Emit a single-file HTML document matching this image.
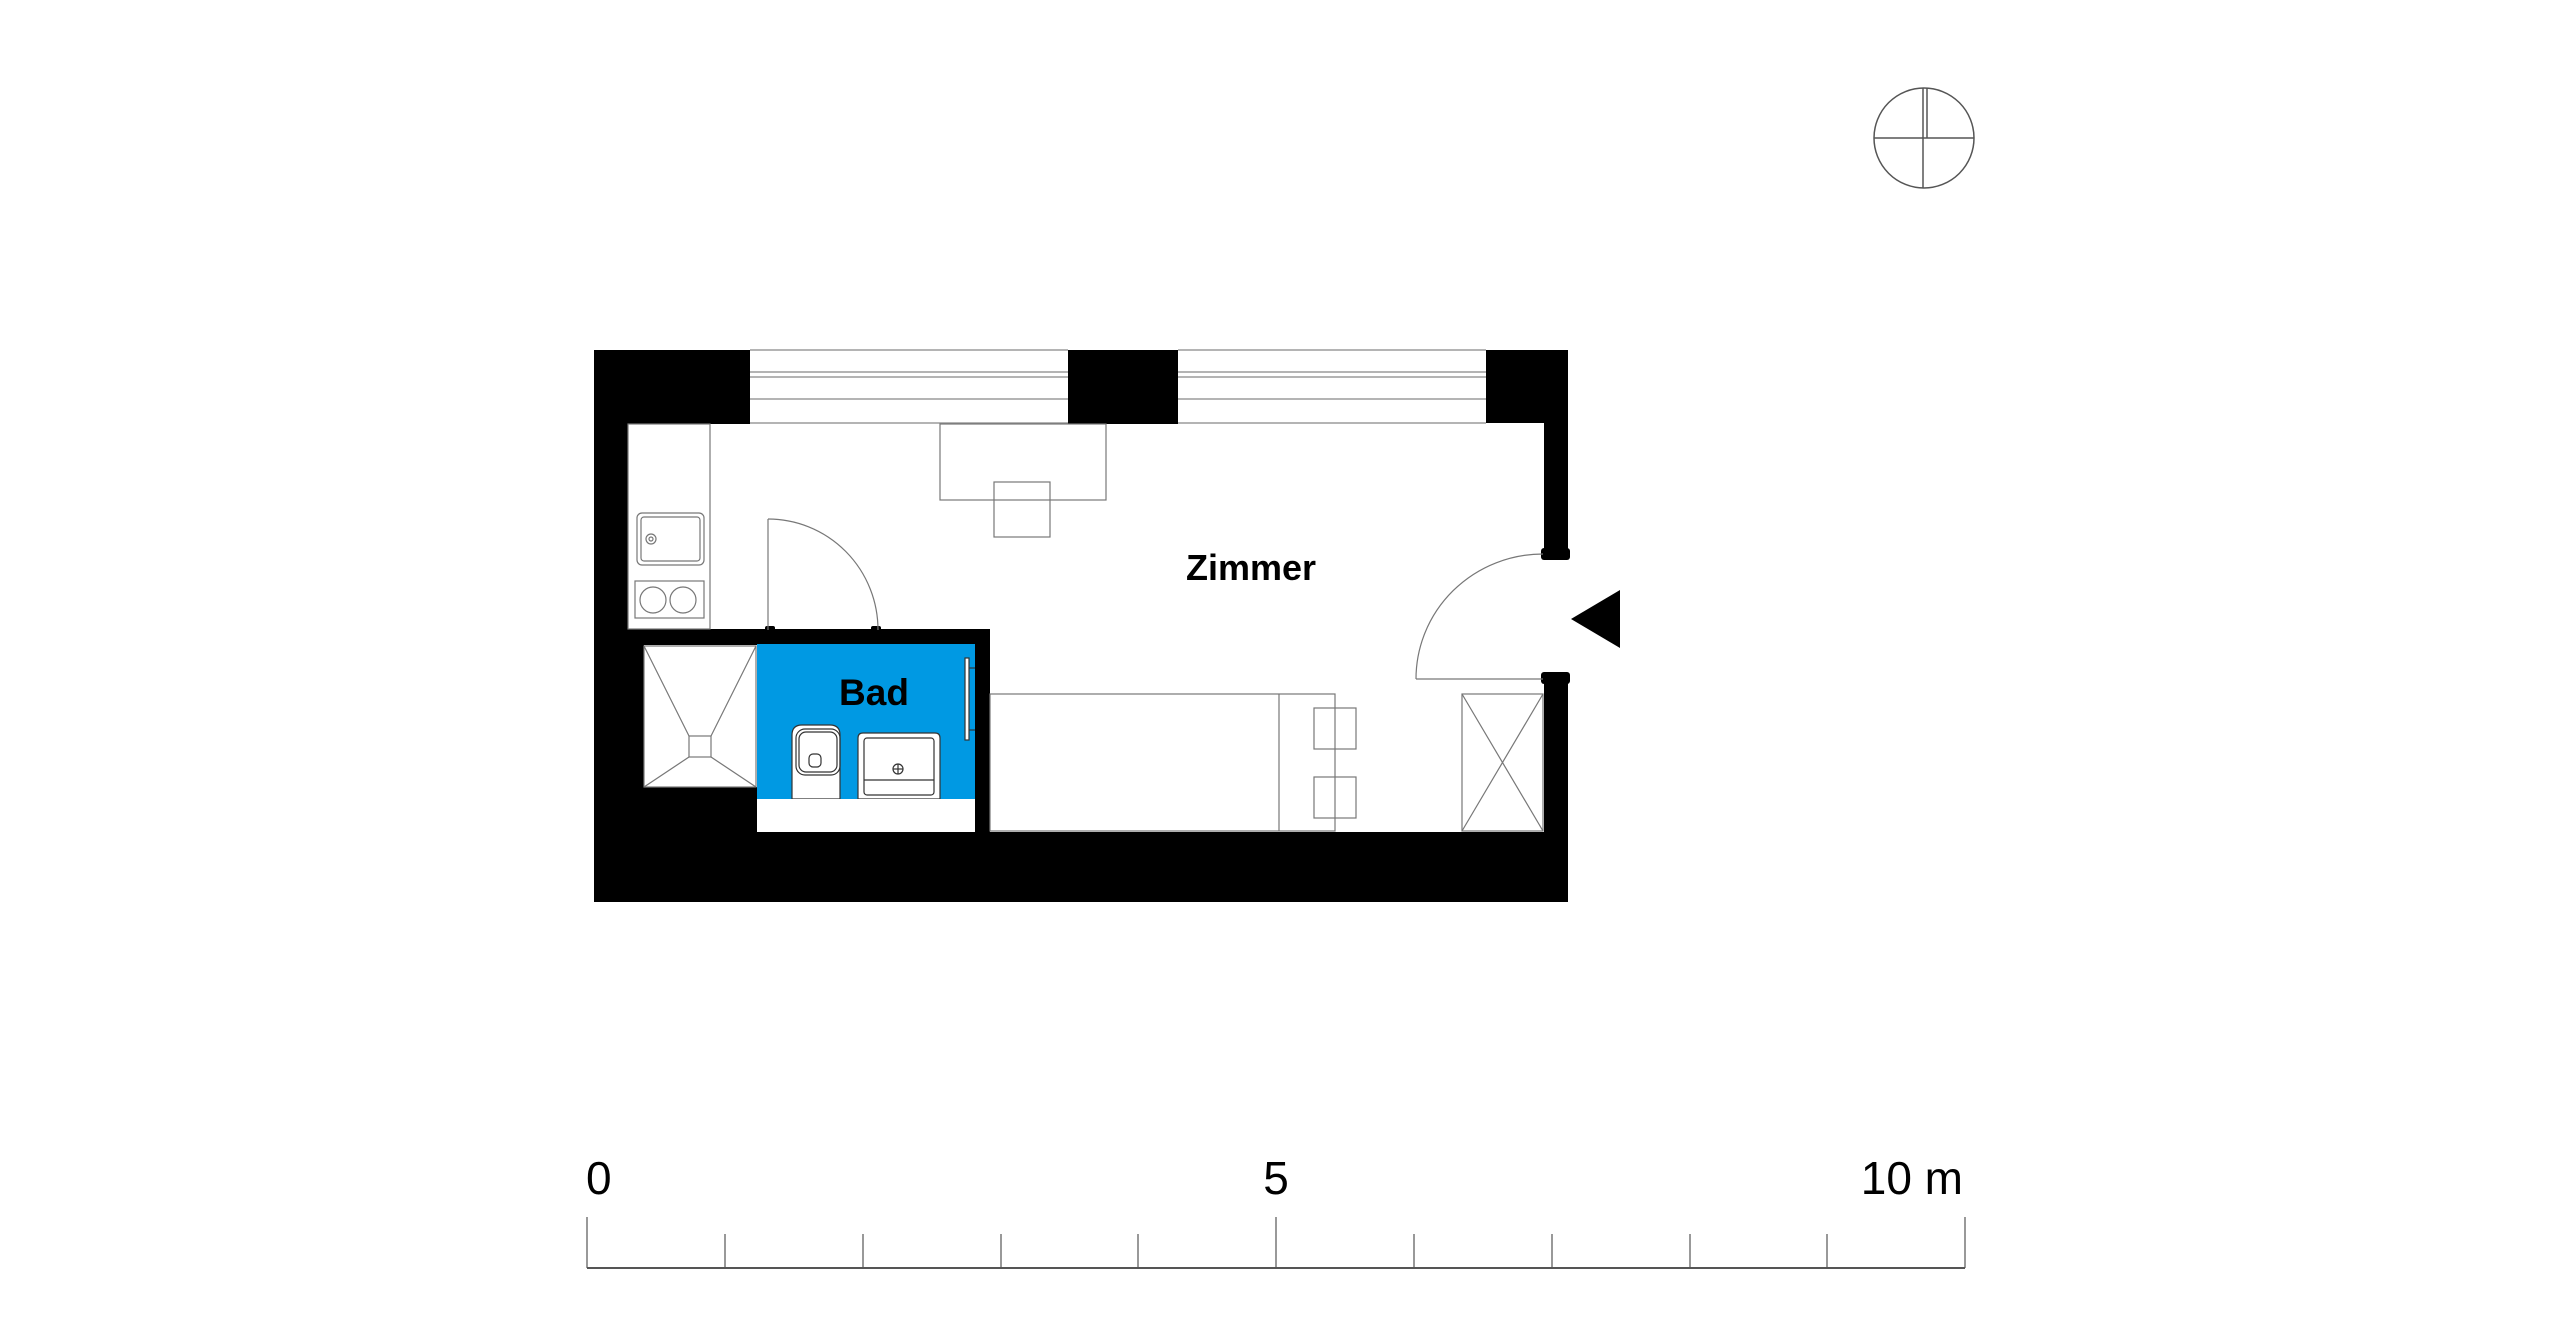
<!DOCTYPE html>
<html><head><meta charset="utf-8"><style>
html,body{margin:0;padding:0;background:#fff;}
svg{display:block;}
text{font-family:"Liberation Sans",Arial,sans-serif;}
</style></head><body>
<svg width="2560" height="1331" viewBox="0 0 2560 1331" xmlns="http://www.w3.org/2000/svg">
<rect width="2560" height="1331" fill="#fff"/>
<!-- compass -->
<g fill="none" stroke="#555" stroke-width="1.5">
<circle cx="1924" cy="138" r="50"/>
<line x1="1874" y1="138" x2="1974" y2="138"/>
<line x1="1923" y1="88" x2="1923" y2="188"/>
<line x1="1927" y1="88" x2="1927" y2="138"/>
</g>
<!-- walls -->
<g fill="#000">
<rect x="594" y="350" width="156" height="74"/>
<rect x="1068" y="350" width="110" height="74"/>
<rect x="1486" y="350" width="82" height="73"/>
<rect x="594" y="350" width="34" height="552"/>
<rect x="1544" y="350" width="24" height="205"/>
<rect x="1541" y="548" width="29" height="12" rx="3"/>
<rect x="1544" y="675" width="24" height="227"/>
<rect x="1541" y="672" width="29" height="12" rx="3"/>
<rect x="594" y="832" width="974" height="70"/>
<rect x="628" y="629" width="362" height="16"/>
<rect x="975" y="629" width="15" height="203"/>
<rect x="628" y="629" width="16" height="203"/>
<rect x="628" y="787" width="129" height="45"/>
<rect x="765" y="626" width="10" height="20" rx="2"/>
<rect x="871" y="626" width="10" height="20" rx="2"/>
</g>
<!-- windows -->
<g stroke="#888" stroke-width="1.2">
<line x1="750" y1="350" x2="1068" y2="350"/>
<line x1="750" y1="372" x2="1068" y2="372"/>
<line x1="750" y1="377" x2="1068" y2="377"/>
<line x1="750" y1="399" x2="1068" y2="399"/>
<line x1="750" y1="423" x2="1068" y2="423"/>
<line x1="1178" y1="350" x2="1486" y2="350"/>
<line x1="1178" y1="372" x2="1486" y2="372"/>
<line x1="1178" y1="377" x2="1486" y2="377"/>
<line x1="1178" y1="399" x2="1486" y2="399"/>
<line x1="1178" y1="423" x2="1486" y2="423"/>
</g>
<!-- bath -->
<rect x="757" y="644" width="218" height="155" fill="#0099e3"/>
<g fill="none" stroke="#777" stroke-width="1.2">
<!-- kitchen -->
<rect x="628" y="424" width="82" height="205"/>
<rect x="637" y="513" width="67" height="52" rx="5"/>
<rect x="641" y="517" width="59" height="44" rx="3"/>
<circle cx="651" cy="539" r="5"/><circle cx="651" cy="539" r="2"/>
<rect x="635" y="581" width="69" height="37"/>
<circle cx="653" cy="600" r="13"/><circle cx="683" cy="600" r="13"/>
<!-- bath door -->
<line x1="768" y1="519" x2="768" y2="630"/>
<path d="M768 519 A110 111 0 0 1 878 630"/>
<!-- desk -->
<rect x="940" y="424" width="166" height="76"/>
<rect x="994" y="482" width="56" height="55"/>
<!-- entry door -->
<line x1="1416" y1="679" x2="1543" y2="679"/>
<path d="M1416 679 A127 125 0 0 1 1543 554"/>
<!-- bed -->
<rect x="990" y="694" width="345" height="137"/>
<line x1="1279" y1="694" x2="1279" y2="831"/>
<rect x="1314" y="708" width="42" height="41"/>
<rect x="1314" y="777" width="42" height="41"/>
<!-- wardrobe -->
<rect x="1462" y="694" width="81" height="137"/>
<line x1="1462" y1="694" x2="1543" y2="831"/>
<line x1="1543" y1="694" x2="1462" y2="831"/>
<!-- shower -->
<rect x="644" y="646" width="112" height="141" fill="#fff"/>
<rect x="689" y="736" width="22" height="21"/>
<line x1="644" y1="646" x2="689" y2="736"/>
<line x1="756" y1="646" x2="711" y2="736"/>
<line x1="644" y1="787" x2="689" y2="757"/>
<line x1="756" y1="787" x2="711" y2="757"/>
</g>
<!-- bath fixtures -->
<g stroke="#333" stroke-width="1.2" fill="#fff">
<path d="M792 799 V735 Q792 725 802 725 H830 Q840 725 840 735 V799 Z"/>
<rect x="796" y="729" width="44" height="46" rx="9" fill="none"/>
<rect x="799" y="732" width="38" height="40" rx="7" fill="none"/>
<rect x="809" y="754" width="12" height="13" rx="4" fill="none"/>
<path d="M858 799 V738 Q858 733 863 733 H935 Q940 733 940 738 V799 Z"/>
<rect x="864" y="738" width="70" height="57" rx="3" fill="none"/>
<line x1="864" y1="780" x2="934" y2="780"/>
<circle cx="898" cy="769" r="5" fill="none"/>
<line x1="893" y1="769" x2="903" y2="769"/><line x1="898" y1="764" x2="898" y2="774"/>
<rect x="965" y="658" width="4" height="82"/>
<line x1="969" y1="668" x2="975" y2="668"/><line x1="969" y1="730" x2="975" y2="730"/>
</g>
<rect x="757" y="799" width="218" height="33" fill="#fff"/>
<!-- labels -->
<text x="1251" y="580" font-size="36" font-weight="bold" text-anchor="middle">Zimmer</text>
<text x="874" y="705" font-size="37" font-weight="bold" text-anchor="middle">Bad</text>
<!-- entry arrow -->
<polygon points="1571,619 1620,590 1620,648" fill="#000"/>
<!-- scale bar -->
<g stroke="#555" stroke-width="1.2">
<line x1="587" y1="1268" x2="1965" y2="1268" stroke-width="2"/>
<line x1="587" y1="1217" x2="587" y2="1268"/>
<line x1="725" y1="1234" x2="725" y2="1268"/>
<line x1="863" y1="1234" x2="863" y2="1268"/>
<line x1="1001" y1="1234" x2="1001" y2="1268"/>
<line x1="1138" y1="1234" x2="1138" y2="1268"/>
<line x1="1276" y1="1217" x2="1276" y2="1268"/>
<line x1="1414" y1="1234" x2="1414" y2="1268"/>
<line x1="1552" y1="1234" x2="1552" y2="1268"/>
<line x1="1690" y1="1234" x2="1690" y2="1268"/>
<line x1="1827" y1="1234" x2="1827" y2="1268"/>
<line x1="1965" y1="1217" x2="1965" y2="1268"/>
</g>
<g font-size="46" fill="#000">
<text x="586" y="1194">0</text>
<text x="1276" y="1194" text-anchor="middle">5</text>
<text x="1963" y="1194" text-anchor="end">10 m</text>
</g>
</svg>
</body></html>
